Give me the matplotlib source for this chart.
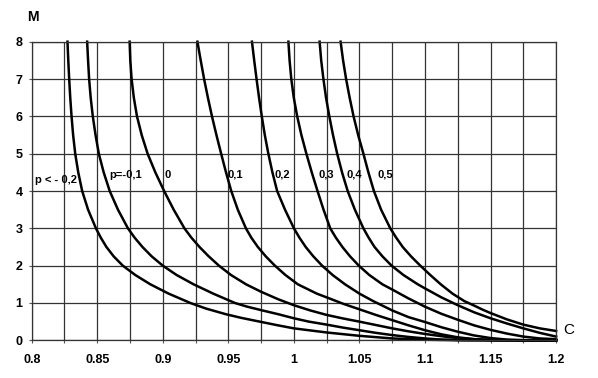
import matplotlib
matplotlib.use("Agg")
import matplotlib.pyplot as plt
from matplotlib.ticker import MultipleLocator

plt.rcParams['font.family'] = ['Liberation Sans', 'DejaVu Sans']

# curves M(C), one per p value
c_a = [0.8273, 0.8279, 0.8286, 0.8294, 0.8304, 0.8316, 0.8332, 0.8355, 0.8385, 0.843, 0.849, 0.8527, 0.857, 0.8625,
       0.8695, 0.879, 0.8905, 0.9045, 0.921, 0.933, 0.948, 0.96, 0.974, 0.988, 1.0, 1.025, 1.05, 1.075, 1.1, 1.13, 1.2]
m_a = [8, 7.5, 7, 6.5, 6, 5.5, 5, 4.5, 4, 3.5, 3, 2.75, 2.5, 2.25,
       2, 1.75, 1.5, 1.25, 1.0, 0.85, 0.7, 0.6, 0.5, 0.4, 0.32, 0.21, 0.12, 0.05, 0.015, 0, 0]

c_b = [0.8423, 0.843, 0.8438, 0.845, 0.8466, 0.8487, 0.8512, 0.8549, 0.8595, 0.8658, 0.8734, 0.8785, 0.8845, 0.8915,
       0.9, 0.9105, 0.9235, 0.9385, 0.955, 0.9645, 0.976, 0.988, 1.0, 1.0115, 1.025, 1.0375, 1.05, 1.0625, 1.075,
       1.0875, 1.1, 1.1125, 1.125, 1.15, 1.2]
m_b = [8, 7.5, 7, 6.5, 6, 5.5, 5, 4.5, 4, 3.5, 3, 2.75, 2.5, 2.25,
       2, 1.75, 1.5, 1.25, 1.0, 0.9, 0.8, 0.7, 0.59, 0.5, 0.42, 0.34, 0.27, 0.2, 0.14,
       0.09, 0.05, 0.02, 0.008, 0, 0]

c_c = [0.8747, 0.8752, 0.8762, 0.8779, 0.8803, 0.8839, 0.8884, 0.8943, 0.901, 0.9083, 0.9165, 0.9218, 0.928, 0.935,
       0.9428, 0.952, 0.9635, 0.975, 0.988, 1.0, 1.0125, 1.025, 1.0375, 1.05, 1.0625, 1.075, 1.0875, 1.1, 1.1125,
       1.125, 1.1375, 1.15, 1.17, 1.2]
m_c = [8, 7.5, 7, 6.5, 6, 5.5, 5, 4.5, 4, 3.5, 3, 2.75, 2.5, 2.25,
       2, 1.75, 1.5, 1.3, 1.1, 0.94, 0.8, 0.68, 0.585, 0.5, 0.41, 0.32, 0.24, 0.17, 0.11,
       0.06, 0.03, 0.01, 0, 0]

c_d = [0.9264, 0.9289, 0.9315, 0.9344, 0.9375, 0.9409, 0.9445, 0.9482, 0.9522, 0.9572, 0.9634, 0.9675, 0.9725,
       0.9785, 0.9855, 0.9935, 1.003, 1.0175, 1.025, 1.0375, 1.05, 1.0625, 1.075, 1.0875, 1.1, 1.1125, 1.125,
       1.1375, 1.15, 1.17, 1.2]
m_d = [8, 7.5, 7, 6.5, 6, 5.5, 5, 4.5, 4, 3.5, 3, 2.75, 2.5,
       2.25, 2, 1.75, 1.5, 1.25, 1.15, 0.98, 0.83, 0.68, 0.54, 0.4, 0.27, 0.16, 0.08,
       0.03, 0.01, 0, 0]

c_e = [0.968, 0.9697, 0.9715, 0.9734, 0.9755, 0.9778, 0.9805, 0.9836, 0.9872, 0.9932, 1.0, 1.0042, 1.009, 1.0148,
       1.0215, 1.0295, 1.039, 1.05, 1.0605, 1.075, 1.0875, 1.1, 1.1125, 1.125, 1.1375, 1.15, 1.1625, 1.175, 1.2]
m_e = [8, 7.5, 7, 6.5, 6, 5.5, 5, 4.5, 4, 3.5, 3, 2.75, 2.5, 2.25,
       2, 1.75, 1.5, 1.25, 1.05, 0.8, 0.62, 0.49, 0.35, 0.23, 0.13, 0.06, 0.02, 0.005, 0]

c_f = [0.9958, 0.9967, 0.998, 0.9999, 1.0025, 1.0057, 1.0095, 1.0136, 1.018, 1.0226, 1.0277, 1.032, 1.037, 1.0428,
       1.0495, 1.0575, 1.0675, 1.075, 1.0875, 1.1, 1.1125, 1.125, 1.1375, 1.15, 1.1625, 1.175, 1.1875, 1.2]
m_f = [8, 7.5, 7, 6.5, 6, 5.5, 5, 4.5, 4, 3.5, 3, 2.75, 2.5, 2.25,
       2, 1.75, 1.5, 1.36, 1.12, 0.9, 0.71, 0.55, 0.4, 0.28, 0.18, 0.1, 0.05, 0.03]

c_g = [1.0196, 1.0208, 1.0225, 1.0245, 1.027, 1.0298, 1.033, 1.0367, 1.041, 1.0465, 1.053, 1.057, 1.0615, 1.0675,
       1.0745, 1.0835, 1.0945, 1.0995, 1.1125, 1.125, 1.1375, 1.15, 1.1625, 1.175, 1.1875, 1.2]
m_g = [8, 7.5, 7, 6.5, 6, 5.5, 5, 4.5, 4, 3.5, 3, 2.75, 2.5, 2.25,
       2, 1.75, 1.5, 1.4, 1.15, 0.94, 0.75, 0.59, 0.45, 0.32, 0.2, 0.1]

c_h = [1.0356, 1.0375, 1.0398, 1.0425, 1.0455, 1.049, 1.053, 1.0568, 1.061, 1.0665, 1.0735, 1.078, 1.083, 1.0893,
       1.0964, 1.104, 1.112, 1.121, 1.13, 1.1375, 1.144, 1.15, 1.1625, 1.175, 1.1875, 1.2]
m_h = [8, 7.5, 7, 6.5, 6, 5.5, 5, 4.5, 4, 3.5, 3, 2.75, 2.5, 2.25,
       2, 1.75, 1.5, 1.25, 1.05, 0.93, 0.82, 0.73, 0.56, 0.42, 0.32, 0.25]

curves = [(c_a, m_a), (c_b, m_b), (c_c, m_c), (c_d, m_d),
          (c_e, m_e), (c_f, m_f), (c_g, m_g), (c_h, m_h)]

labels = ["p < - 0,2", "p=-0,1", "0", "0,1", "0,2", "0,3", "0,4", "0,5"]
label_c = [0.8025, 0.8595, 0.9013, 0.9494, 0.9849, 1.019, 1.0401, 1.0639]
label_m = [4.29, 4.43, 4.43, 4.43, 4.43, 4.43, 4.43, 4.43]

xticks = [0.8, 0.85, 0.9, 0.95, 1.0, 1.05, 1.1, 1.15, 1.2]
xticklabels = ["0.8", "0.85", "0.9", "0.95", "1", "1.05", "1.1", "1.15", "1.2"]

fig = plt.figure(figsize=(5.98, 3.78), dpi=100)
ax = fig.add_axes([0.053, 0.0997, 0.877, 0.79])

for c, m in curves:
    ax.plot(c, m, color="black", lw=1.8, solid_joinstyle="round", clip_on=False)

for t, x, y in zip(labels, label_c, label_m):
    ax.text(x, y, t, fontsize=8, fontweight="bold", ha="left", va="center")

ax.set_xlim(0.8, 1.2)
ax.set_ylim(0, 8)
ax.set_xticks(xticks)
ax.set_xticklabels(xticklabels, fontsize=9, fontweight="bold")
ax.xaxis.set_minor_locator(MultipleLocator(0.025))
ax.set_yticks(range(0, 9))
ax.set_yticklabels([str(i) for i in range(0, 9)], fontsize=9, fontweight="bold")
ax.tick_params(axis="both", which="both", length=2, color="#555555", width=0.8)
ax.tick_params(axis="x", pad=7.5)
ax.tick_params(axis="y", pad=4.5)
ax.grid(True, which="both", color="#333333", lw=0.9)
ax.set_axisbelow(True)
for s in ax.spines.values():
    s.set_color("#333333")
    s.set_linewidth(0.9)

fig.text(33 / 598, 1 - 17 / 378, "M", fontsize=10, fontweight="bold", ha="center", va="center")
fig.text(563 / 598, 1 - 330 / 378, "C", fontsize=11, ha="left", va="center")

fig.savefig("out.png", dpi=100)
